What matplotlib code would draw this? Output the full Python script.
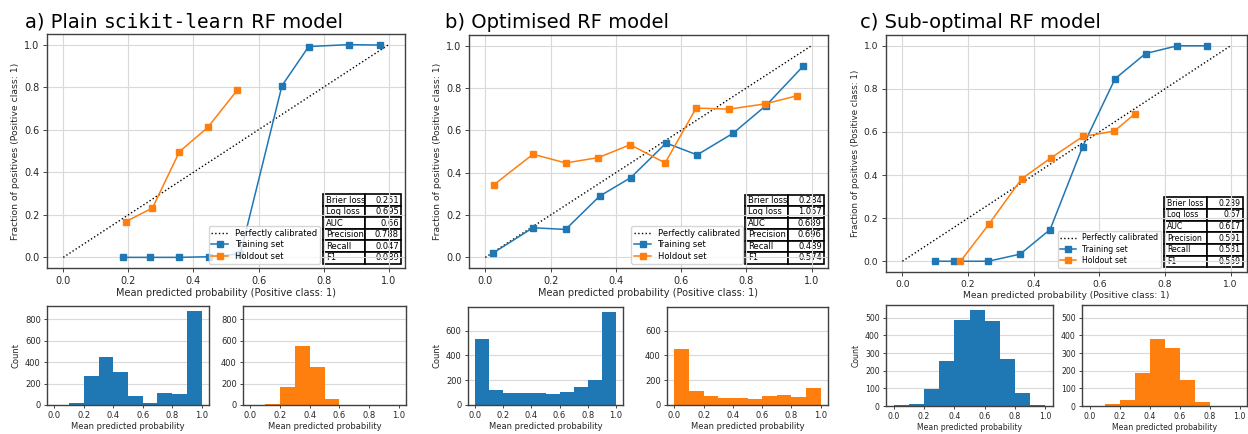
import numpy as np
import matplotlib
matplotlib.use('Agg')
import matplotlib.pyplot as plt
from matplotlib.ticker import MultipleLocator

W, H = 1248, 434

title_a = ['a) Plain ', 'scikit-learn', ' RF model']
title_b = 'b) Optimised RF model'
title_c = 'c) Sub-optimal RF model'
metric_names = ['Brier loss', 'Log loss', 'AUC', 'Precision', 'Recall', 'F1']

# calibration curves (mean predicted prob, fraction of positives)
a_train_x = [0.182, 0.268, 0.355, 0.448, 0.544, 0.672, 0.754, 0.877, 0.972]
a_train_y = [0.0, 0.0, 0.0, 0.003, 0.016, 0.807, 0.991, 1.0, 0.998]
a_hold_x = [0.192, 0.274, 0.357, 0.444, 0.535]
a_hold_y = [0.168, 0.232, 0.497, 0.611, 0.787]

b_train_x = [0.025, 0.146, 0.246, 0.350, 0.446, 0.554, 0.649, 0.759, 0.860, 0.974]
b_train_y = [0.022, 0.140, 0.132, 0.289, 0.377, 0.540, 0.484, 0.586, 0.717, 0.903]
b_hold_x = [0.027, 0.146, 0.246, 0.346, 0.444, 0.551, 0.646, 0.747, 0.858, 0.955]
b_hold_y = [0.344, 0.487, 0.446, 0.471, 0.532, 0.446, 0.705, 0.700, 0.725, 0.763]

c_train_x = [0.098, 0.158, 0.262, 0.359, 0.450, 0.549, 0.648, 0.741, 0.838, 0.929]
c_train_y = [0.0, 0.0, 0.0, 0.033, 0.147, 0.531, 0.847, 0.964, 1.0, 1.0]
c_hold_x = [0.177, 0.264, 0.363, 0.453, 0.550, 0.646, 0.708]
c_hold_y = [0.0, 0.173, 0.382, 0.480, 0.579, 0.604, 0.684]

# metrics tables
a_metrics = ['0.251', '0.695', '0.66', '0.788', '0.047', '0.089']
b_metrics = ['0.284', '1.057', '0.689', '0.696', '0.489', '0.574']
c_metrics = ['0.239', '0.67', '0.617', '0.591', '0.531', '0.559']

# histogram counts, bins of width 0.1 from 0 to 1
bin_edges = np.linspace(0, 1, 11)
a_train_counts = [0, 15, 273, 448, 313, 85, 22, 116, 107, 881]
a_hold_counts = [0, 9, 166, 555, 354, 53, 0, 0, 0, 0]
b_train_counts = [536, 118, 94, 99, 99, 91, 104, 145, 204, 753]
b_hold_counts = [450, 110, 70, 54, 54, 46, 75, 80, 64, 134]
c_train_counts = [6, 11, 99, 256, 485, 545, 481, 269, 73, 7]
c_hold_counts = [0, 9, 35, 185, 381, 330, 146, 24, 0, 0]


def px(l, t, r, b):
    return [l / W, 1 - b / H, (r - l) / W, (b - t) / H]


def style_axes(ax, fs):
    for s in ax.spines.values():
        s.set_color('0.25')
        s.set_linewidth(1.0)
    ax.tick_params(labelsize=fs, colors='0.15', length=3, width=0.6, pad=2.5)


def calib_panel(fig, box, tx, ty, hx, hy, metrics, fs):
    ax = fig.add_axes(px(*box))
    ax.plot([0, 1], [0, 1], 'k:', lw=1.0, label='Perfectly calibrated')
    ax.plot(tx, ty, 's-', color='tab:blue', ms=4.5, lw=1.1, label='Training set')
    ax.plot(hx, hy, 's-', color='tab:orange', ms=4.5, lw=1.1, label='Holdout set')
    ax.grid(True, color='0.85', lw=0.8)
    ax.set_axisbelow(True)
    style_axes(ax, fs)
    ax.set_xlabel('Mean predicted probability (Positive class: 1)', fontsize=fs, color='0.15', labelpad=2)
    ax.set_ylabel('Fraction of positives (Positive class: 1)', fontsize=fs - 0.3, color='0.15', labelpad=3)
    ax.legend(loc='lower right', bbox_to_anchor=(0.762, 0.018), borderaxespad=0,
              fontsize=fs - 1.0, framealpha=0.8, borderpad=0.35, labelspacing=0.3,
              handlelength=2.0)
    tab = ax.table(cellText=[[n, v] for n, v in zip(metric_names, metrics)],
                   cellLoc='right', bbox=[0.77, 0.019, 0.22, 0.296],
                   colWidths=[0.54, 0.46])
    tab.auto_set_font_size(False)
    tab.set_fontsize(fs - 1.0)
    for (r, c), cell in tab.get_celld().items():
        cell.set_linewidth(1.2)
        cell.PAD = 0.07
        if c == 0:
            cell.get_text().set_ha('left')
    return ax


def hist_pair(fig, box1, box2, c1, c2, fs, step=None):
    ax1 = fig.add_axes(px(*box1))
    ax2 = fig.add_axes(px(*box2), sharey=ax1)
    ax1.bar(bin_edges[:-1], c1, width=0.1, align='edge', color='tab:blue')
    ax2.bar(bin_edges[:-1], c2, width=0.1, align='edge', color='tab:orange')
    for ax in (ax1, ax2):
        ax.grid(True, axis='y', color='0.85', lw=0.8)
        ax.set_axisbelow(True)
        ax.set_xticks([0, 0.2, 0.4, 0.6, 0.8, 1.0])
        style_axes(ax, fs)
        ax.tick_params(length=2.5, pad=2)
        ax.set_xlabel('Mean predicted probability', fontsize=fs, color='0.15', labelpad=1.5)
    if step:
        ax1.yaxis.set_major_locator(MultipleLocator(step))
    ax1.set_ylabel('Count', fontsize=fs, color='0.15', labelpad=3)
    ax2.tick_params(labelleft=True)
    return ax1, ax2


fig = plt.figure(figsize=(W / 100, H / 100), dpi=100)

calib_panel(fig, (47, 34, 405, 268), a_train_x, a_train_y, a_hold_x, a_hold_y, a_metrics, 7)
calib_panel(fig, (469, 35, 828, 268), b_train_x, b_train_y, b_hold_x, b_hold_y, b_metrics, 7)
calib_panel(fig, (886, 35, 1247, 272), c_train_x, c_train_y, c_hold_x, c_hold_y, c_metrics, 6.6)

hist_pair(fig, (47, 306, 209, 405), (243, 306, 406, 405), a_train_counts, a_hold_counts, 6)
hist_pair(fig, (468, 307, 623, 405), (667, 307, 828, 405), b_train_counts, b_hold_counts, 6)
hist_pair(fig, (886, 305, 1053, 406), (1082, 305, 1247, 406), c_train_counts, c_hold_counts, 5.6, step=100)

# panel titles; panel a mixes a monospace word into the title
fs_title = 14
base_y = 1 - 28 / H
renderer = fig.canvas.get_renderer()
x = 25 / W
for part, fam in zip(title_a, ['DejaVu Sans', 'DejaVu Sans Mono', 'DejaVu Sans']):
    t = fig.text(x, base_y, part, fontsize=fs_title, family=fam, ha='left', va='baseline')
    bb = t.get_window_extent(renderer)
    x = bb.x1 / W
fig.text(445 / W, base_y, title_b, fontsize=fs_title, ha='left', va='baseline')
fig.text(860 / W, base_y, title_c, fontsize=fs_title, ha='left', va='baseline')

fig.savefig('out.png', dpi=100)
